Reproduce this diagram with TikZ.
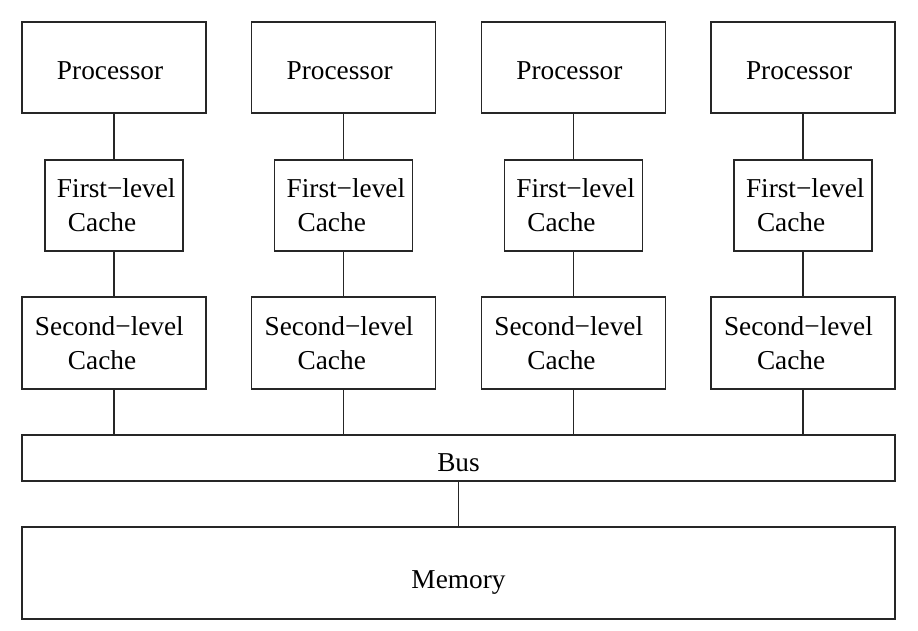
\documentclass[tikz,border=0pt]{standalone}
\usepackage{fontspec}
\setmainfont{Liberation Serif}
\usetikzlibrary{positioning}

\tikzset{
  box/.style={rectangle, draw=black!85, line width=0.6bp, inner sep=0pt,
              font=\fontsize{13.7}{17}\selectfont, align=left},
  procbox/.style={box, minimum width=92bp, minimum height=45.5bp,
                  text width=57bp, text height=14bp, text depth=1.5bp},
  loneb/.style={box, minimum width=69bp, minimum height=45.5bp, text width=57bp},
  ltwob/.style={box, minimum width=92bp, minimum height=46bp, text width=79bp},
  link/.style={draw=black!85, line width=0.6bp}
}

\begin{document}
\begin{tikzpicture}[x=0.5bp, y=-0.5bp]
\useasboundingbox (0,0) rectangle (918,631);

% one column per processor
\foreach \i [evaluate=\i as \x using 114+(\i-1)*229.67] in {1,...,4}{
  \node[procbox] (proc\i) at (\x,67.5) {Processor};
  \node[loneb]   (lone\i) at (\x,205.5) {First−level\\\hspace*{5.5bp}Cache};
  \node[ltwob]   (ltwo\i) at (\x,343) {Second−level\\\hspace*{16.5bp}Cache};
}

\node[box, minimum width=436.5bp, minimum height=23bp,
      text height=14.5bp, text depth=1bp] (bus) at (458.5,458) {Bus};
\node[box, minimum width=436.5bp, minimum height=46bp,
      text height=16bp, text depth=1bp] (mem) at (458.5,573) {Memory};

\foreach \i in {1,...,4}{
  \draw[link] (proc\i) -- (lone\i);
  \draw[link] (lone\i) -- (ltwo\i);
  \draw[link] (ltwo\i) -- (ltwo\i |- bus.north);
}
\draw[link] (bus) -- (mem);
\end{tikzpicture}
\end{document}
